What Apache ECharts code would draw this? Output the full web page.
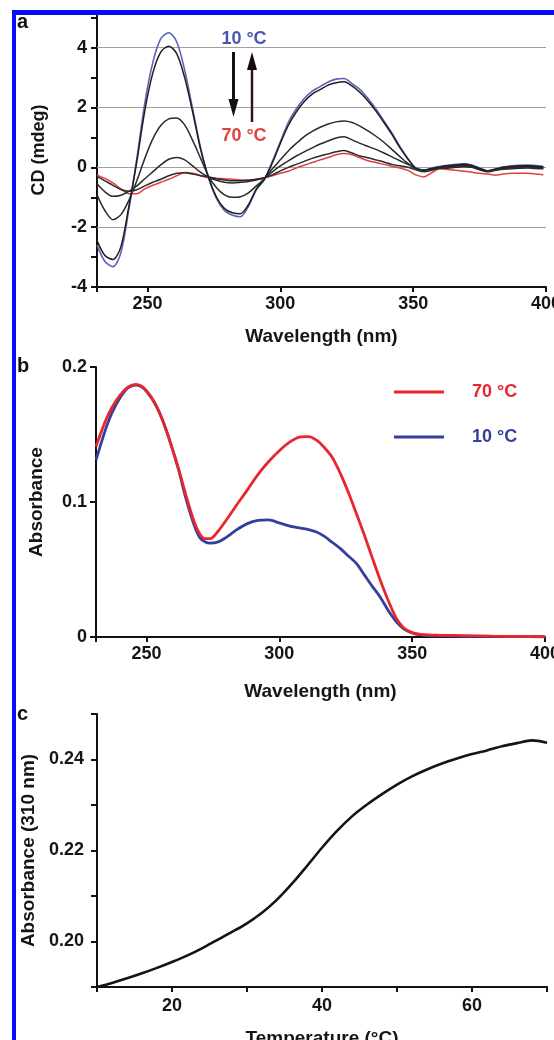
<!DOCTYPE html>
<html><head><meta charset="utf-8">
<script src="https://cdn.jsdelivr.net/npm/echarts@6/dist/echarts.min.js"></script>
<style>html,body{margin:0;padding:0;background:#fff;}#c{width:554px;height:1040px;}</style>
</head><body><div id="c"></div>
<script>
// ---------- Panel a: CD spectra ----------
const wlA = [231,234,237,240,243,246,249,252,255,258,261,264,267,270,273,276,279,282,285,288,291,294,297,300,303,306,309,312,315,318,321,324,327,330,333,336,339,342,345,348,351,354,357,360,363,366,369,372,375,378,381,384,387,390,393,396,399];
const cd10C = [-2.6,-3.15,-3.32,-2.85,-1.4,0.3,2.15,3.5,4.3,4.5,4.2,3.25,1.95,0.65,-0.35,-1.05,-1.45,-1.6,-1.65,-1.3,-0.75,-0.4,0.2,0.85,1.5,1.95,2.3,2.55,2.7,2.85,2.95,2.97,2.8,2.6,2.3,1.95,1.55,1.15,0.7,0.3,-0.02,-0.1,-0.02,0.03,0.07,0.1,0.12,0.08,-0.02,-0.12,-0.05,0.02,0.05,0.07,0.08,0.06,0.03];
const cdMid1 = [-2.45,-2.95,-3.08,-2.65,-1.3,0.2,1.9,3.15,3.85,4.05,3.8,3.0,1.85,0.6,-0.35,-1.0,-1.38,-1.52,-1.55,-1.25,-0.72,-0.4,0.15,0.8,1.4,1.85,2.2,2.45,2.6,2.75,2.83,2.86,2.72,2.5,2.22,1.88,1.5,1.1,0.66,0.28,-0.03,-0.1,-0.04,0.01,0.05,0.08,0.1,0.06,-0.04,-0.12,-0.06,0,0.03,0.05,0.05,0.04,0.02];
const cdMid2 = [-0.92,-1.45,-1.75,-1.58,-1.1,-0.45,0.3,0.95,1.4,1.62,1.65,1.42,0.9,0.3,-0.3,-0.68,-0.92,-1.0,-0.98,-0.85,-0.62,-0.38,-0.05,0.25,0.55,0.8,1.03,1.2,1.34,1.45,1.52,1.55,1.5,1.38,1.22,1.04,0.84,0.6,0.36,0.13,-0.04,-0.1,-0.06,-0.01,0.02,0.05,0.07,0.04,-0.05,-0.12,-0.07,-0.02,0,0.02,0.03,0.02,0];
const cdMid3 = [-0.55,-0.82,-0.97,-0.93,-0.8,-0.62,-0.38,-0.15,0.08,0.27,0.33,0.25,0.05,-0.17,-0.33,-0.43,-0.5,-0.52,-0.5,-0.47,-0.42,-0.35,-0.15,0.05,0.22,0.38,0.52,0.65,0.78,0.88,0.98,1.02,0.92,0.8,0.7,0.6,0.48,0.35,0.22,0.1,-0.03,-0.09,-0.05,-0.01,0.01,0.04,0.05,0.02,-0.07,-0.14,-0.09,-0.04,-0.02,0,0.01,-0.01,-0.03];
const cdMid4 = [-0.3,-0.45,-0.6,-0.74,-0.8,-0.75,-0.62,-0.5,-0.4,-0.28,-0.2,-0.18,-0.22,-0.28,-0.32,-0.38,-0.42,-0.45,-0.45,-0.43,-0.4,-0.35,-0.25,-0.12,0,0.1,0.2,0.3,0.38,0.45,0.52,0.56,0.48,0.38,0.32,0.25,0.18,0.1,0.05,0,-0.08,-0.15,-0.1,-0.04,-0.03,0,0.02,0,-0.08,-0.15,-0.1,-0.06,-0.05,-0.03,-0.02,-0.04,-0.05];
const cd70C = [-0.26,-0.37,-0.52,-0.72,-0.88,-0.88,-0.72,-0.6,-0.5,-0.4,-0.28,-0.17,-0.2,-0.28,-0.35,-0.37,-0.38,-0.4,-0.42,-0.43,-0.4,-0.35,-0.28,-0.2,-0.13,-0.02,0.07,0.16,0.25,0.33,0.42,0.46,0.42,0.32,0.22,0.16,0.1,0.04,-0.02,-0.1,-0.25,-0.32,-0.18,-0.05,-0.07,-0.1,-0.13,-0.16,-0.2,-0.22,-0.26,-0.22,-0.2,-0.2,-0.2,-0.22,-0.25];
const gridValsA = [4, 2, 0, -2];

// ---------- Panel b: absorbance spectra ----------
const wlB = [231,233,235,237,240,243,246,248,250,253,256,259,262,265,268,270,272,274,277,280,284,288,292,296,300,304,308,311,314,317,320,323,326,329,332,335,338,341,344,347,350,353,356,360,370,380,390,400];
const abs70C = [0.141,0.152,0.162,0.170,0.179,0.185,0.1872,0.186,0.1825,0.174,0.161,0.144,0.125,0.104,0.085,0.0765,0.0728,0.0728,0.0785,0.0865,0.098,0.109,0.1205,0.130,0.138,0.1445,0.1482,0.1485,0.1458,0.1402,0.1328,0.121,0.107,0.0915,0.0755,0.0586,0.042,0.027,0.014,0.0065,0.0032,0.002,0.0015,0.0013,0.001,0.0006,0.0004,0.0002];
const abs10C = [0.131,0.144,0.156,0.166,0.177,0.1845,0.1866,0.1855,0.182,0.1735,0.161,0.144,0.1245,0.1015,0.0825,0.0738,0.0705,0.0695,0.0705,0.0738,0.0795,0.084,0.0863,0.0867,0.0845,0.0822,0.0806,0.0796,0.0778,0.0745,0.0700,0.0655,0.0600,0.0545,0.046,0.0375,0.0295,0.0197,0.0115,0.0058,0.003,0.0015,0.001,0.0008,0.0005,0.0004,0.0003,0.0002];

// ---------- Panel c: melting curve ----------
const tempC = [10,12,14,16,18,20,22,24,26,28,30,32,34,36,38,40,42,44,46,48,50,52,54,56,58,60,62,64,66,68,70];
const abs310 = [0.1900,0.1909,0.1919,0.1930,0.1942,0.1955,0.1969,0.1985,0.2003,0.2021,0.2040,0.2063,0.2092,0.2127,0.2166,0.2206,0.2243,0.2275,0.2301,0.2324,0.2345,0.2363,0.2378,0.2391,0.2402,0.2412,0.2420,0.2429,0.2436,0.2442,0.2437];

const FONT = "'Liberation Sans', Arial, sans-serif";
const lab = {fontFamily: FONT, fontWeight: 'bold', fontSize: 18, color: '#151515'};
const nameLab = {fontFamily: FONT, fontWeight: 'bold', fontSize: 19, color: '#151515'};
const axLine = {show: true, onZero: false, lineStyle: {color: '#111', width: 2}};
const tick = (len) => ({show: true, length: len, lineStyle: {color: '#111', width: 2}});
const pair = (xs, ys) => xs.map((x, i) => [x, ys[i]]);

const chart = echarts.init(document.getElementById('c'), null, {renderer: 'canvas'});

function lineSeries(name, xi, data, color, width, z) {
  return {type: 'line', name, xAxisIndex: xi, yAxisIndex: xi, data, showSymbol: false, smooth: 0.3,
    lineStyle: {color, width}, itemStyle: {color}, z: z || 3, silent: true, animation: false};
}

const option = {
  animation: false,
  backgroundColor: '#fff',
  grid: [
    {left: 97, right: 8, top: 13, bottom: 753, containLabel: false, outerBoundsMode: 'none'},
    {left: 96, right: 9, top: 367, bottom: 403, containLabel: false, outerBoundsMode: 'none'},
    {left: 97, right: 7, top: 714, bottom: 53, containLabel: false, outerBoundsMode: 'none'}
  ],
  xAxis: [
    {gridIndex: 0, type: 'value', min: 231, max: 400, minInterval: 50, maxInterval: 50,
     axisLine: axLine, axisTick: tick(5), splitLine: {show: false},
     axisLabel: Object.assign({margin: 8, formatter: v => (v % 50 === 0 ? String(v) : '')}, lab),
     name: 'Wavelength (nm)', nameLocation: 'middle', nameGap: 40, nameTextStyle: nameLab},
    {gridIndex: 1, type: 'value', min: 231, max: 400, minInterval: 50, maxInterval: 50,
     axisLine: axLine, axisTick: tick(5), splitLine: {show: false},
     axisLabel: Object.assign({margin: 8, formatter: v => (v % 50 === 0 ? String(v) : '')}, lab),
     name: 'Wavelength (nm)', nameLocation: 'middle', nameGap: 45, nameTextStyle: nameLab},
    {gridIndex: 2, type: 'value', min: 10, max: 70, interval: 10,
     axisLine: axLine, axisTick: tick(5), splitLine: {show: false},
     axisLabel: Object.assign({margin: 10, formatter: v => ((v % 20 === 0 && v > 10 && v < 70) ? String(v) : '')}, lab),
     name: 'Temperature (°C)', nameLocation: 'middle', nameGap: 42, nameTextStyle: nameLab}
  ],
  yAxis: [
    {gridIndex: 0, type: 'value', min: -4, max: 5.16, interval: 1,
     axisLine: axLine, axisTick: tick(6), splitLine: {show: false},
     axisLabel: Object.assign({margin: 10, formatter: v => {const r = Math.round(v); return (Math.abs(v - r) < 1e-6 && r % 2 === 0 && r <= 4) ? String(r) : '';}}, lab),
     name: 'CD (mdeg)', nameLocation: 'middle', nameGap: 49, nameRotate: 90, nameTextStyle: Object.assign({}, nameLab, {fontSize: 18})},
    {gridIndex: 1, type: 'value', min: 0, max: 0.2, interval: 0.1,
     axisLine: axLine, axisTick: tick(6), splitLine: {show: false},
     axisLabel: Object.assign({margin: 9}, lab),
     name: 'Absorbance', nameLocation: 'middle', nameGap: 50, nameRotate: 90, nameTextStyle: nameLab},
    {gridIndex: 2, type: 'value', min: 0.19, max: 0.25, interval: 0.01,
     axisLine: axLine, axisTick: tick(6), splitLine: {show: false},
     axisLabel: Object.assign({margin: 13, formatter: v => {const k = Math.round(v * 100); return (k % 2 === 0 && k >= 20 && k <= 24) ? (k / 100).toFixed(2) : '';}}, lab),
     name: 'Absorbance (310 nm)', nameLocation: 'middle', nameGap: 59, nameRotate: 90, nameTextStyle: nameLab}
  ],
  legend: {
    data: ['70 °C', '10 °C'], orient: 'vertical', left: 394, top: 382, padding: 0,
    icon: 'rect', itemWidth: 50, itemHeight: 3, itemGap: 25,
    textStyle: {fontFamily: FONT, fontWeight: 'bold', fontSize: 18, lineHeight: 20, padding: [0, 0, 0, 23], color: 'inherit'},
    selectedMode: false
  },
  series: [
    {type: 'line', name: 'grid a', xAxisIndex: 0, yAxisIndex: 0, data: [], z: 1, silent: true,
     markLine: {z: 1, silent: true, symbol: ['none', 'none'], label: {show: false}, animation: false,
       lineStyle: {color: '#a0a0a0', type: 'solid', width: 1.2},
       data: gridValsA.map(v => ({yAxis: v}))}},
    lineSeries('CD 70 °C', 0, pair(wlA, cd70C), '#e2403f', 1.5),
    lineSeries('CD mid 4', 0, pair(wlA, cdMid4), '#2a2a2a', 1.5),
    lineSeries('CD mid 3', 0, pair(wlA, cdMid3), '#2a2a2a', 1.5),
    lineSeries('CD mid 2', 0, pair(wlA, cdMid2), '#2a2a2a', 1.5),
    lineSeries('CD 10 °C', 0, pair(wlA, cd10C), '#5a62b4', 1.6),
    lineSeries('CD mid 1', 0, pair(wlA, cdMid1), '#1e1e1e', 1.5),
    lineSeries('10 °C', 1, pair(wlB, abs10C), '#343f9c', 2.8),
    lineSeries('70 °C', 1, pair(wlB, abs70C), '#e8262c', 2.8),
    lineSeries('melt', 2, pair(tempC, abs310), '#141414', 2.6)
  ],
  graphic: [
    {type: 'text', left: 17, top: 12, z: 50, style: {text: 'a', font: "bold 20px " + FONT, fill: '#111'}},
    {type: 'text', left: 17, top: 356, z: 50, style: {text: 'b', font: "bold 20px " + FONT, fill: '#111'}},
    {type: 'text', left: 17, top: 704, z: 50, style: {text: 'c', font: "bold 20px " + FONT, fill: '#111'}},
    {type: 'text', x: 244, y: 39, z: 50, style: {text: '10 °C', font: "bold 18px " + FONT, fill: '#4c55ad', align: 'center', verticalAlign: 'middle'}},
    {type: 'text', x: 244, y: 136, z: 50, style: {text: '70 °C', font: "bold 18px " + FONT, fill: '#e2403f', align: 'center', verticalAlign: 'middle'}},
    {type: 'line', z: 50, shape: {x1: 233.5, y1: 52, x2: 233.5, y2: 102}, style: {stroke: '#111', lineWidth: 3}},
    {type: 'polygon', z: 50, shape: {points: [[228.5, 99], [238.5, 99], [233.5, 117]]}, style: {fill: '#111'}},
    {type: 'line', z: 50, shape: {x1: 252, y1: 122, x2: 252, y2: 68}, style: {stroke: '#3a1414', lineWidth: 2.5}},
    {type: 'polygon', z: 50, shape: {points: [[247, 70], [257, 70], [252, 52]]}, style: {fill: '#1a0a0a'}},
    {type: 'rect', z: 100, shape: {x: 12, y: 10, width: 542, height: 5}, style: {fill: '#0a0aff'}},
    {type: 'rect', z: 100, shape: {x: 12, y: 10, width: 4, height: 1030}, style: {fill: '#0a0aff'}}
  ]
};
chart.setOption(option);
</script></body></html>
